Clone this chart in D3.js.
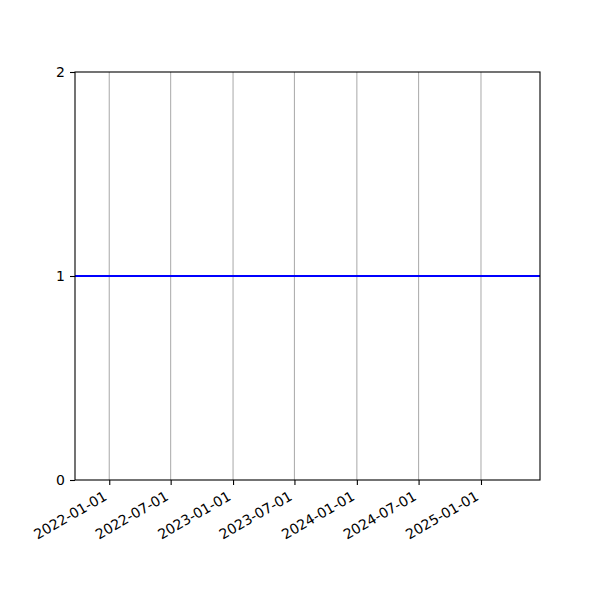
<!DOCTYPE html>
<html>
<head>
<meta charset="utf-8">
<script src="https://cdn.jsdelivr.net/npm/d3@7"></script>
<style>
  body { margin: 0; background: #fff; }
  svg text { font-family: "DejaVu Sans", sans-serif; font-size: 14px; fill: #000; }
</style>
</head>
<body>
<svg id="canvas" width="600" height="600"></svg>
<script>
// Data
var lineDates = ["2021-09-22", "2025-06-24"];
var lineValues = [1, 1];
var tickDates = ["2022-01-01", "2022-07-01", "2023-01-01", "2023-07-01",
                 "2024-01-01", "2024-07-01", "2025-01-01"];
var yTicks = [0, 1, 2];

var parse = d3.timeParse("%Y-%m-%d");
var fmt = d3.timeFormat("%Y-%m-%d");

var svg = d3.select("#canvas");
var margin = {top: 72, right: 60, bottom: 120, left: 75},
    width = 600 - margin.left - margin.right,
    height = 600 - margin.top - margin.bottom;

var x = d3.scaleTime()
    .domain([parse(lineDates[0]), parse(lineDates[1])])
    .range([0, width]);
var y = d3.scaleLinear().domain([0, 2]).range([height, 0]);

var g = svg.append("g")
    .attr("transform", "translate(" + margin.left + "," + margin.top + ")");

// Vertical grid lines
g.selectAll(".grid")
    .data(tickDates.map(parse))
    .enter().append("line")
    .attr("class", "grid")
    .attr("x1", function(d) { return x(d); })
    .attr("x2", function(d) { return x(d); })
    .attr("y1", 0)
    .attr("y2", height)
    .style("stroke", "#b0b0b0")
    .style("stroke-width", 1.1);

// Blue line
var data = lineDates.map(function(d, i) { return {date: parse(d), value: lineValues[i]}; });
var line = d3.line()
    .x(function(d) { return x(d.date); })
    .y(function(d) { return y(d.value); });
g.append("path")
    .attr("d", line(data))
    .style("fill", "none")
    .style("stroke", "#0000ff")
    .style("stroke-width", 2.1);

// X axis
var xAxis = d3.axisBottom(x)
    .tickValues(tickDates.map(parse))
    .tickFormat(fmt)
    .tickSize(5)
    .tickPadding(4);
var xg = g.append("g")
    .attr("transform", "translate(0," + height + ")")
    .call(xAxis);
xg.select(".domain").remove();
xg.selectAll(".tick line").style("stroke", "#000").style("stroke-width", 1.1);
xg.selectAll(".tick text")
    .attr("font-size", null)
    .attr("font-family", null)
    .style("text-anchor", "end")
    .attr("dy", 0)
    .attr("y", 0)
    .attr("x", 0)
    .attr("transform", "translate(-1.7,19) rotate(-30)");

// Y axis
var yAxis = d3.axisLeft(y)
    .tickValues(yTicks)
    .tickFormat(d3.format("d"))
    .tickSize(5)
    .tickPadding(5);
var yg = g.append("g").call(yAxis);
yg.select(".domain").remove();
yg.selectAll(".tick line").style("stroke", "#000").style("stroke-width", 1.1);
yg.selectAll(".tick text").attr("font-size", null).attr("font-family", null);

// Frame
g.append("rect")
    .attr("width", width)
    .attr("height", height)
    .style("fill", "none")
    .style("stroke", "#000")
    .style("stroke-width", 1.1);
</script>
</body>
</html>
